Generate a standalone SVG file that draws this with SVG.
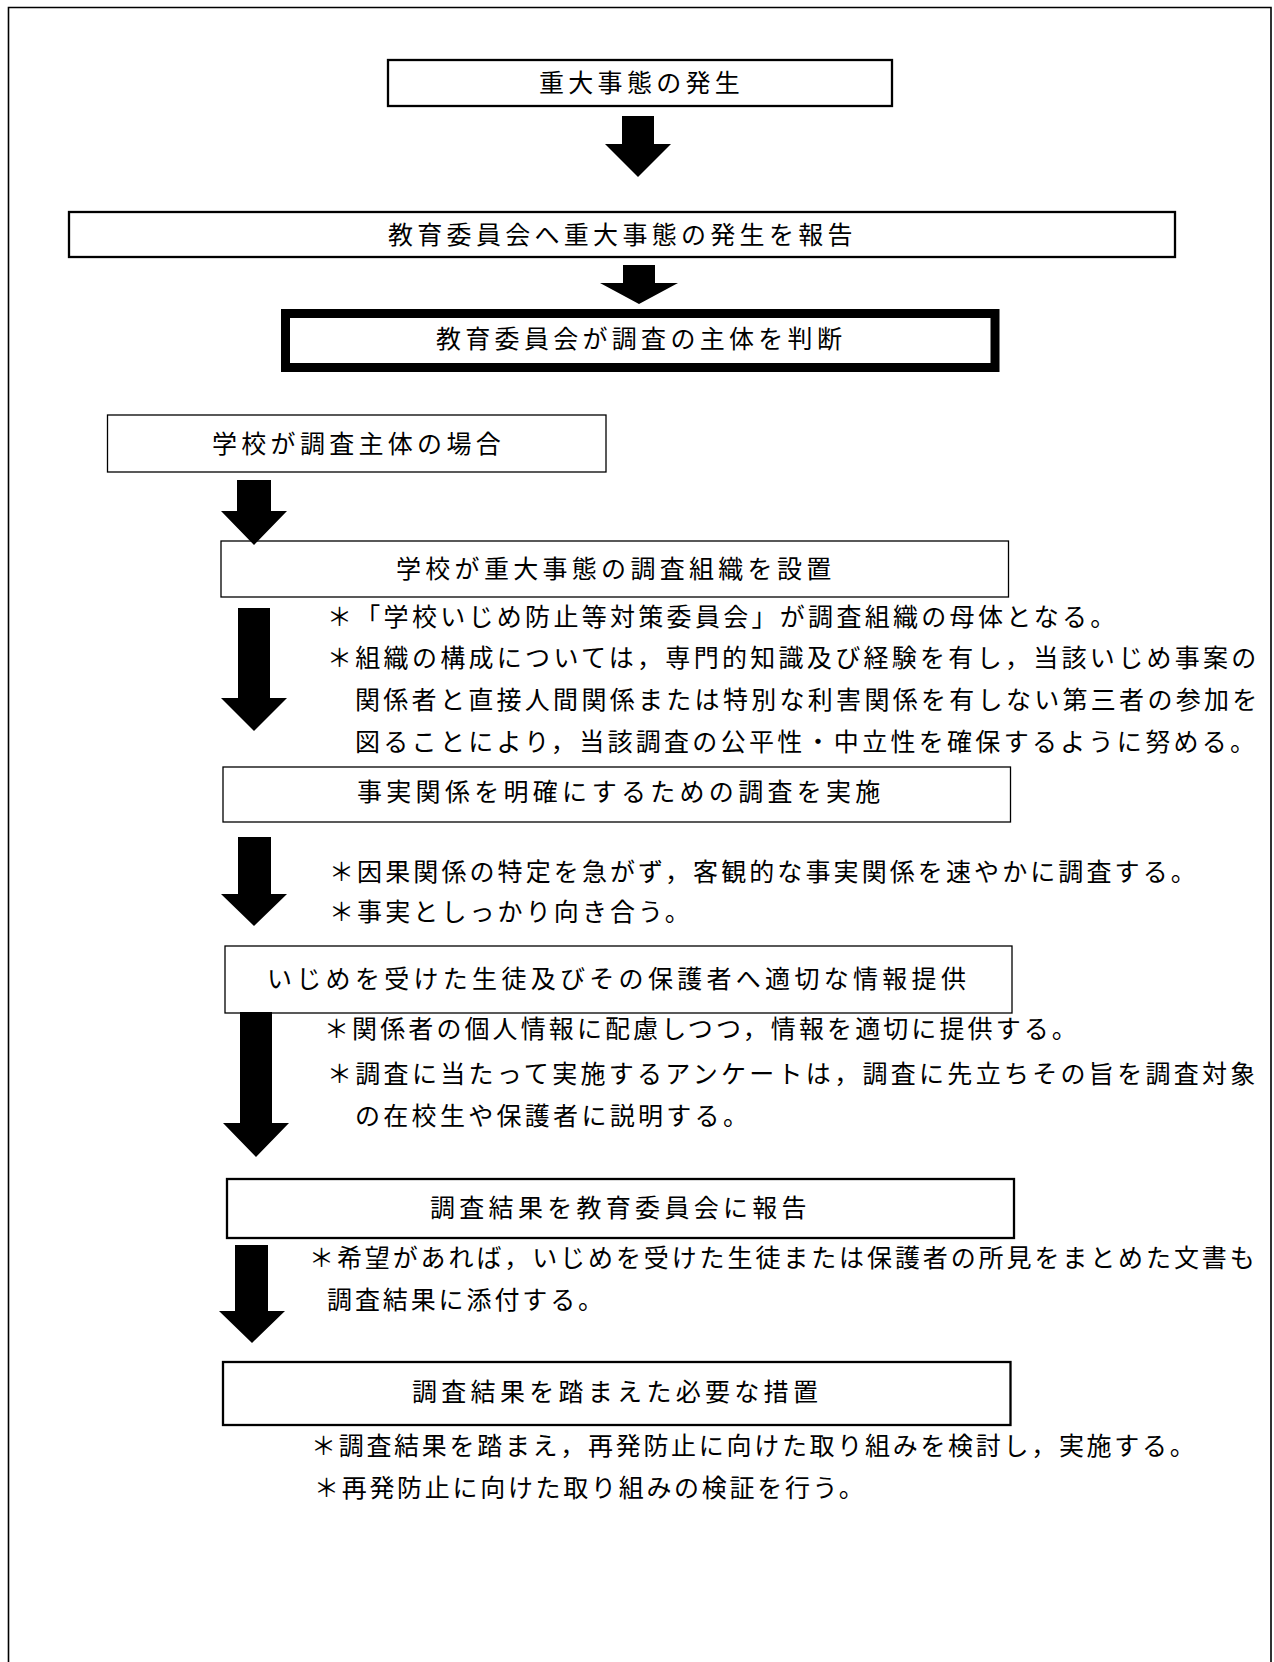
<svg xmlns="http://www.w3.org/2000/svg" width="1274" height="1662" viewBox="0 0 1274 1662">
<style>
text{font-family:"Noto Sans CJK JP","Noto Sans CJK SC",sans-serif;font-size:25px;fill:#000}
.bx{fill:#fff;stroke:#000;stroke-width:1.3}
.bk{fill:#fff;stroke:#000;stroke-width:2.3}
.bt{letter-spacing:4.3px}
.arr{fill:#000;stroke:none}
</style>
<rect x="0" y="0" width="1274" height="1662" fill="#fff"/>
<path d="M8.5,1662 V7.5 H1271 V1662" fill="none" stroke="#000" stroke-width="1.6"/>

<g id="node-occurrence">
<rect class="bk" x="388" y="60" width="504" height="46"/>
<text class="bt" x="539" y="91.5">重大事態の発生</text>
</g>
<g id="node-report">
<rect class="bk" x="69" y="212" width="1106" height="45"/>
<text class="bt" x="388" y="244">教育委員会へ重大事態の発生を報告</text>
</g>
<g id="node-judge">
<rect x="285.5" y="313.5" width="709.5" height="54" fill="#fff" stroke="#000" stroke-width="9"/>
<text class="bt" x="436" y="348">教育委員会が調査の主体を判断</text>
</g>
<g id="node-school-case">
<rect class="bx" x="107.5" y="415" width="498.5" height="57"/>
<text class="bt" x="212" y="452.5">学校が調査主体の場合</text>
</g>
<g id="node-setup">
<rect class="bx" x="221" y="541" width="787.5" height="56"/>
<text class="bt" x="396" y="578">学校が重大事態の調査組織を設置</text>
<text x="327" y="626" style="letter-spacing:3.3px">＊「学校いじめ防止等対策委員会」が調査組織の母体となる。</text>
<text x="327" y="667" style="letter-spacing:3.3px">＊組織の構成については，専門的知識及び経験を有し，当該いじめ事案の</text>
<text x="355" y="709" style="letter-spacing:3.3px">関係者と直接人間関係または特別な利害関係を有しない第三者の参加を</text>
<text x="355" y="751" style="letter-spacing:3.3px">図ることにより，当該調査の公平性・中立性を確保するように努める。</text>
</g>
<g id="node-investigate">
<rect class="bx" x="223" y="767" width="787.5" height="55"/>
<text class="bt" x="357" y="801">事実関係を明確にするための調査を実施</text>
<text x="329" y="881" style="letter-spacing:3.1px">＊因果関係の特定を急がず，客観的な事実関係を速やかに調査する。</text>
<text x="329" y="921" style="letter-spacing:3.1px">＊事実としっかり向き合う。</text>
</g>
<g id="node-inform">
<rect class="bx" x="225" y="946" width="787" height="67"/>
<text class="bt" x="267" y="988">いじめを受けた生徒及びその保護者へ適切な情報提供</text>
<text x="324" y="1038" style="letter-spacing:3.1px">＊関係者の個人情報に配慮しつつ，情報を適切に提供する。</text>
<text x="327" y="1083" style="letter-spacing:3.3px">＊調査に当たって実施するアンケートは，調査に先立ちその旨を調査対象</text>
<text x="355" y="1125" style="letter-spacing:3.3px">の在校生や保護者に説明する。</text>
</g>
<g id="node-result-report">
<rect class="bk" x="227" y="1179" width="787" height="59"/>
<text class="bt" x="430" y="1217">調査結果を教育委員会に報告</text>
<text x="309" y="1267" style="letter-spacing:2.9px">＊希望があれば，いじめを受けた生徒または保護者の所見をまとめた文書も</text>
<text x="327" y="1309" style="letter-spacing:2.9px">調査結果に添付する。</text>
</g>
<g id="node-measures">
<rect class="bk" x="223" y="1362" width="787.5" height="63"/>
<text class="bt" x="412" y="1401">調査結果を踏まえた必要な措置</text>
<text x="311" y="1455" style="letter-spacing:2.7px">＊調査結果を踏まえ，再発防止に向けた取り組みを検討し，実施する。</text>
<text x="314" y="1497" style="letter-spacing:2.7px">＊再発防止に向けた取り組みの検証を行う。</text>
</g>

<g id="connectors">
<polygon class="arr" points="622,116 654,116 654,144 671,144 638,177 605,144 622,144"/>
<polygon class="arr" points="623,265 655,265 655,283 678,283 639,304 600,283 623,283"/>
<polygon class="arr" points="237,480 271,480 271,511 287,511 254,545 221,511 237,511"/>
<polygon class="arr" points="238,608 270,608 270,698 287,698 254,731 221,698 238,698"/>
<polygon class="arr" points="238,837 271,837 271,894 287,894 254,926 221,894 238,894"/>
<polygon class="arr" points="240,1012 272,1012 272,1123 289,1123 256,1157 223,1123 240,1123"/>
<polygon class="arr" points="235,1245 268,1245 268,1311 285,1311 252,1343 219,1311 235,1311"/>
</g>
</svg>
